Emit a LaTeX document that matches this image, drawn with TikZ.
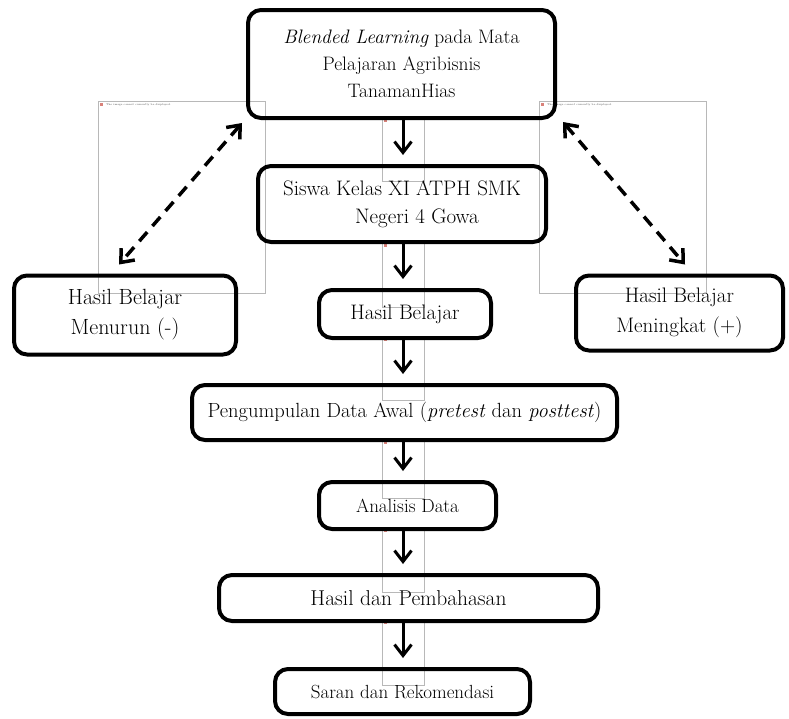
\documentclass[tikz,border=0pt]{standalone}
\usepackage{tikz}
\usetikzlibrary{positioning,arrows.meta,calc}
\usepackage{xcolor}
\definecolor{framegray}{HTML}{B8B8B8}
\definecolor{iconred}{HTML}{D9827A}
% frame of an image that could not be shown
\newcommand{\lostimage}[2]{%
  \draw[framegray, line width=0.8pt] #1 rectangle #2;
  \fill[iconred] ($#1+(2,2)$) rectangle ($#1+(5,5)$);}

\begin{document}
\begin{tikzpicture}[x=1pt, y=-1pt,
    every node/.style={font=\fontsize{21}{30}\selectfont, align=center},
    box/.style={draw, line width=4pt, rounded corners=13pt, inner sep=0pt},
    flow/.style={line width=3pt, shorten >=9pt, -{Straight Barb[length=11pt,width=17pt]}},
    dasharrow/.style={line width=3.5pt, dash pattern=on 12pt off 8pt,
      {Straight Barb[length=11pt,width=18pt]}-{Straight Barb[length=11pt,width=18pt]}}]
  \useasboundingbox (0,0) rectangle (789,718);

  % frames left behind by missing pictures
  \lostimage{(98,101)}{(265,293)}
  \lostimage{(539,101)}{(706,293)}
  \lostimage{(382,117)}{(424,181)}
  \lostimage{(382,242)}{(424,307)}
  \lostimage{(382,336)}{(424,400)}
  \lostimage{(382,439)}{(424,498)}
  \lostimage{(382,527)}{(424,592)}
  \lostimage{(382,619)}{(424,685)}
  \node[anchor=north west, inner sep=0pt, font=\fontsize{2.6}{3}\selectfont, text=black!70] (lostL) at (106,103) {The image cannot currently be displayed.};
  \node[anchor=north west, inner sep=0pt, font=\fontsize{2.6}{3}\selectfont, text=black!70] (lostR) at (547,103) {The image cannot currently be displayed.};

  \node[box, minimum width=307pt, minimum height=108pt, font=\fontsize{19.5}{27}\selectfont] (T) at (401.5,64)
    {\textit{Blended Learning} pada Mata\\ Pelajaran Agribisnis\\ TanamanHias};
  \node[box, minimum width=288pt, minimum height=76pt, font=\fontsize{21}{28}\selectfont] (S) at (402,204)
    {Siswa Kelas XI ATPH SMK\\ \hspace*{30pt}Negeri 4 Gowa};
  \node[box, minimum width=222pt, minimum height=79pt, font=\fontsize{22}{30}\selectfont] (M) at (125,315)
    {Hasil Belajar\\ Menurun (-)};
  \node[box, minimum width=207pt, minimum height=75pt] (K) at (679.5,313)
    {Hasil Belajar\\ Meningkat (+)};
  \node[box, minimum width=172pt, minimum height=48pt] (H) at (405,314) {Hasil Belajar};
  \node[box, minimum width=425pt, minimum height=55pt, font=\fontsize{20.5}{30}\selectfont] (P) at (404.5,412.5)
    {Pengumpulan Data Awal (\textit{pretest} dan \textit{posttest})};
  \node[box, minimum width=177pt, minimum height=47pt, font=\fontsize{19}{24}\selectfont] (A) at (407.5,505.5) {Analisis Data};
  \node[box, minimum width=379pt, minimum height=46pt, font=\fontsize{21.5}{30}\selectfont] (B) at (408.5,598) {Hasil dan Pembahasan};
  \node[box, minimum width=255pt, minimum height=45pt, font=\fontsize{19}{24}\selectfont] (R) at (402.5,691.5) {Saran dan Rekomendasi};

  \coordinate (spine) at (403,0);
  \draw[flow] (spine |- T.south) -- (spine |- S.north);
  \draw[flow] (spine |- S.south) -- (spine |- H.north);
  \draw[flow] (spine |- H.south) -- (spine |- P.north);
  \draw[flow] (spine |- P.south) -- (spine |- A.north);
  \draw[flow] (spine |- A.south) -- (spine |- B.north);
  \draw[flow] (spine |- B.south) -- (spine |- R.north);

  \draw[dasharrow] ($(T.south west)+(-4,3)$) -- ($(M.north)+(-6,-9)$);
  \draw[dasharrow] ($(T.south east)+(6,2)$) -- ($(K.north)+(5.5,-9)$);
\end{tikzpicture}
\end{document}
